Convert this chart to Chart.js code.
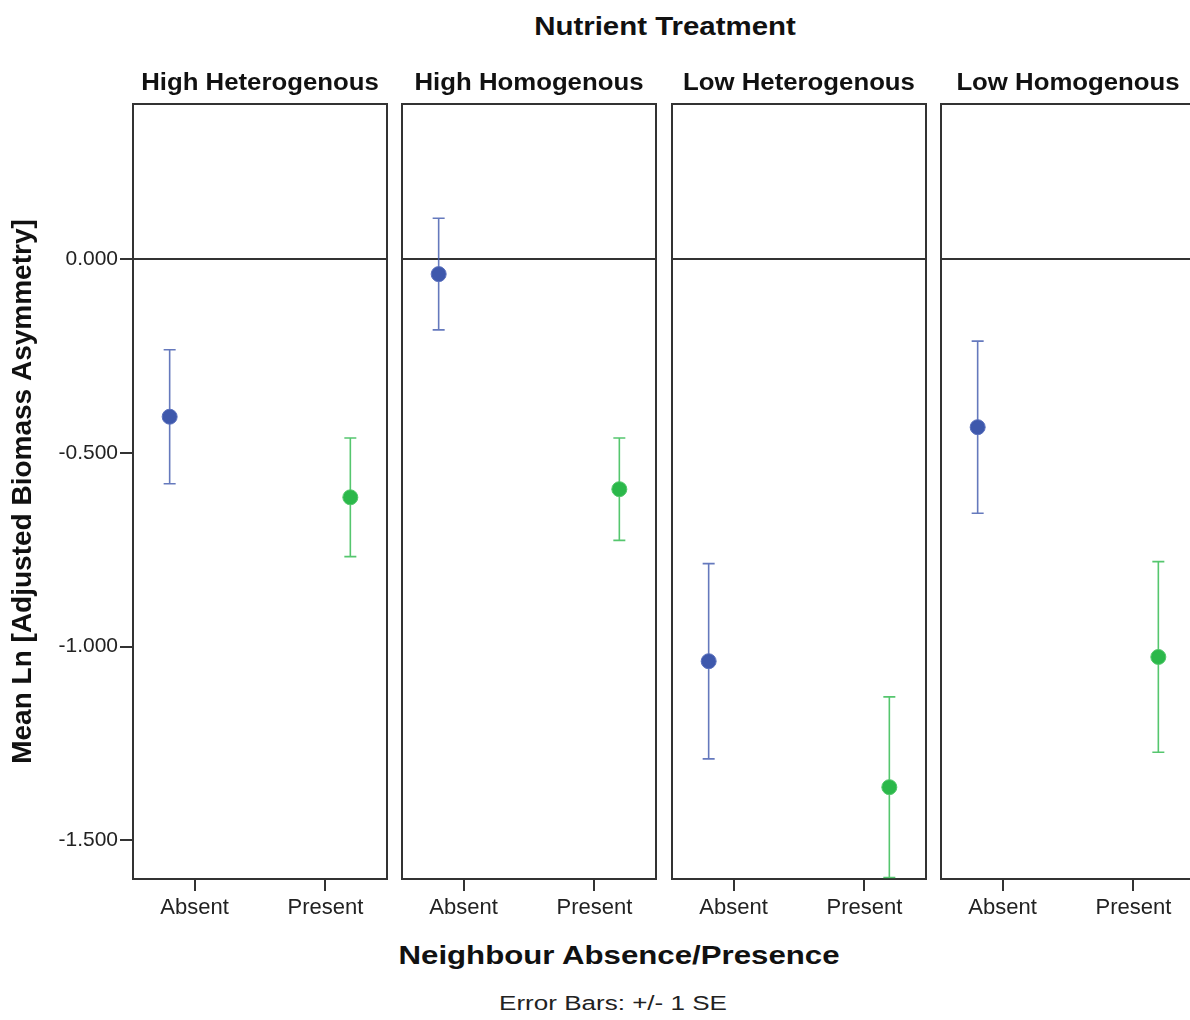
<!DOCTYPE html>
<html>
<head>
<meta charset="utf-8">
<script src="https://cdn.jsdelivr.net/npm/chart.js@4.4.0/dist/chart.umd.min.js"></script>
<style>
  html, body { margin: 0; padding: 0; background: #fff; }
  #wrap { position: relative; width: 1190px; height: 1020px; overflow: hidden; background: #fff; }
  #wrap canvas { position: absolute; top: 0; }
  .txt { position: absolute; white-space: nowrap; color: #111; font-family: 'Liberation Sans', Arial, sans-serif; line-height: 1; }
</style>
</head>
<body>
<div id="wrap">
  <div class="txt" id="mainTitle" style="left:665px; top:13px; font-size:26.5px; font-weight:bold; transform:translateX(-50%) scaleX(1.11);">Nutrient Treatment</div>
  <div class="txt" id="xTitle" style="left:619px; top:942px; font-size:26px; font-weight:bold; transform:translateX(-50%) scaleX(1.2);">Neighbour Absence/Presence</div>
  <div class="txt" id="note" style="left:613px; top:993px; font-size:20.5px; color:#222; transform:translateX(-50%) scaleX(1.27);">Error Bars: +/- 1 SE</div>
</div>
<script>
// Données
const panels = ['High Heterogenous', 'High Homogenous', 'Low Heterogenous', 'Low Homogenous'];
const categories = ['Absent', 'Present'];
const absentMean = [-0.407, -0.039, -1.038, -0.434];
const absentSE = [0.173, 0.144, 0.252, 0.222];
const presentMean = [-0.615, -0.594, -1.363, -1.027];
const presentSE = [0.153, 0.132, 0.233, 0.246];
const yTicks = [0, -0.5, -1, -1.5];

const panelLeft = [133, 402, 672, 941];
const panelWidth = 254;
const dodge = 0.19;
const blue = '#3e58ac';
const green = '#2bb84a';
const font = "'Liberation Sans', Arial, sans-serif";

// cadre du panneau + ligne de référence à 0 + barres d'erreur
const framePlugin = {
    id: 'frame',
    beforeDatasetsDraw(chart) {
        const { ctx, chartArea: a, scales } = chart;
        const y0 = scales.y.getPixelForValue(0);
        ctx.save();
        ctx.strokeStyle = '#333';
        ctx.lineWidth = 2;
        ctx.beginPath();
        ctx.moveTo(a.left, y0);
        ctx.lineTo(a.right, y0);
        ctx.stroke();
        ctx.strokeRect(a.left, a.top, a.right - a.left, a.bottom - a.top);
        ctx.restore();

        ctx.save();
        ctx.beginPath();
        ctx.rect(a.left, a.top, a.right - a.left, a.bottom - a.top);
        ctx.clip();
        chart.data.datasets.forEach((ds, di) => {
            const meta = chart.getDatasetMeta(di);
            meta.data.forEach((pt, i) => {
                const m = ds.data[i].y;
                const se = ds.errors[i];
                const yt = scales.y.getPixelForValue(m + se);
                const yb = scales.y.getPixelForValue(m - se);
                ctx.strokeStyle = ds.barColor;
                ctx.lineWidth = 1.6;
                ctx.beginPath();
                ctx.moveTo(pt.x, yt);
                ctx.lineTo(pt.x, yb);
                ctx.moveTo(pt.x - 6, yt);
                ctx.lineTo(pt.x + 6, yt);
                ctx.moveTo(pt.x - 6, yb);
                ctx.lineTo(pt.x + 6, yb);
                ctx.stroke();
            });
        });
        ctx.restore();
    }
};

const wrap = document.getElementById('wrap');

panels.forEach((name, p) => {
    const first = p === 0;
    const padL = first ? 133 : 4;
    const padR = 4;
    const canvas = document.createElement('canvas');
    const w = padL + panelWidth + padR;
    canvas.width = w;
    canvas.height = 940;
    canvas.style.width = w + 'px';
    canvas.style.height = '940px';
    canvas.style.left = (panelLeft[p] - padL) + 'px';
    wrap.appendChild(canvas);

    const title = document.createElement('div');
    title.className = 'txt';
    title.textContent = name;
    title.style.left = (panelLeft[p] + panelWidth / 2) + 'px';
    title.style.top = '71px';
    title.style.fontSize = '23px';
    title.style.fontWeight = 'bold';
    title.style.transform = 'translateX(-50%) scaleX(1.12)';
    wrap.appendChild(title);

    new Chart(canvas.getContext('2d'), {
        type: 'scatter',
        data: {
            datasets: [{
                label: categories[0],
                data: [{ x: 1 - dodge, y: absentMean[p] }],
                errors: [absentSE[p]],
                backgroundColor: blue,
                borderColor: '#5a70bd',
                barColor: 'rgba(62, 88, 172, 0.8)',
                pointRadius: 7.5,
                borderWidth: 1
            }, {
                label: categories[1],
                data: [{ x: 2 + dodge, y: presentMean[p] }],
                errors: [presentSE[p]],
                backgroundColor: green,
                borderColor: '#52c86a',
                barColor: 'rgba(43, 184, 74, 0.8)',
                pointRadius: 7.5,
                borderWidth: 1
            }]
        },
        options: {
            responsive: false,
            animation: false,
            layout: { autoPadding: false, padding: { top: 104, right: padR, left: first ? 0 : padL, bottom: 0 } },
            plugins: { legend: { display: false }, tooltip: { enabled: false } },
            scales: {
                x: {
                    type: 'linear',
                    min: 0.53,
                    max: 2.47,
                    afterBuildTicks: s => { s.ticks = [{ value: 1 }, { value: 2 }]; },
                    afterFit: s => { s.height = 61; },
                    border: { display: false },
                    grid: { drawOnChartArea: false, drawTicks: true, tickLength: 12, color: '#333', lineWidth: 2 },
                    ticks: {
                        callback: v => categories[v - 1],
                        color: '#222',
                        padding: 4,
                        font: { family: font, size: 22 }
                    }
                },
                y: {
                    display: first,
                    min: -1.6,
                    max: 0.4,
                    afterBuildTicks: s => { s.ticks = yTicks.map(v => ({ value: v })); },
                    afterFit: s => { s.width = first ? 133 : 0; },
                    border: { display: false },
                    grid: { drawOnChartArea: false, drawTicks: true, tickLength: 13, color: '#333', lineWidth: 2 },
                    ticks: {
                        callback: v => v.toFixed(3),
                        color: '#222',
                        padding: 2,
                        font: { family: font, size: 21 }
                    },
                    title: {
                        display: true,
                        text: 'Mean Ln [Adjusted Biomass Asymmetry]',
                        color: '#111',
                        padding: { top: 6, bottom: 0 },
                        font: { family: font, size: 28, weight: 'bold' }
                    }
                }
            }
        },
        plugins: [framePlugin]
    });
});
</script>
</body>
</html>
